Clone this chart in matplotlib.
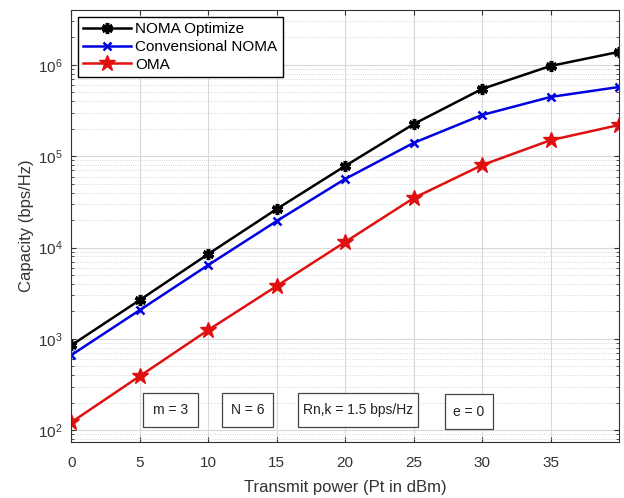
import matplotlib
matplotlib.use('Agg')
import matplotlib.pyplot as plt
from matplotlib.patches import Rectangle

power = [0, 5, 10, 15, 20, 25, 30, 35, 40]
noma_opt = [850, 2660, 8490, 26400, 78200, 225000, 546000, 975000, 1390000]
noma_conv = [664, 2065, 6430, 19500, 56400, 140000, 283000, 446000, 574000]
oma = [122, 391, 1250, 3790, 11500, 34800, 80000, 150000, 220000]
params = ['m = 3', 'N = 6', 'Rn,k = 1.5 bps/Hz', 'e = 0']

plt.rcParams['font.family'] = ['Liberation Sans', 'DejaVu Sans']

fig = plt.figure(figsize=(6.24, 4.98), dpi=100)
fig.set_facecolor('w')
ax = fig.add_axes([0.114, 0.112, 0.878, 0.868])

ax.semilogy(power, noma_opt, color='k', lw=1.8, marker=(6, 2, 0), ms=8, mew=2.5,
            label='NOMA Optimize')
ax.semilogy(power, noma_conv, color='#0000e0', lw=1.8, marker='x', ms=6, mew=1.8,
            label='Convensional NOMA')
ax.semilogy(power, oma, color='#e01010', lw=1.8, marker='*', ms=12,
            label='OMA')

ax.set_xlim(0, 40)
ax.set_ylim(74, 4.0e6)
ax.set_xticks([0, 5, 10, 15, 20, 25, 30, 35])
ax.grid(True, which='major', color='#d8d8d8', lw=0.8)
ax.grid(True, which='minor', color='#cccccc', lw=0.6, ls=':')
ax.tick_params(which='both', direction='in', top=True, right=True,
               colors='#333333', labelsize=11)
ax.tick_params(axis='x', pad=10)
ax.tick_params(axis='y', pad=6)
for s in ax.spines.values():
    s.set_color('#333333')

ax.set_xlabel('Transmit power (Pt in dBm)', fontsize=12, color='#333333', labelpad=7)
ax.set_ylabel('Capacity (bps/Hz)', fontsize=12, color='#333333', labelpad=3)

leg = ax.legend(loc='upper left', fontsize=11, fancybox=False, framealpha=1,
                edgecolor='k', borderaxespad=0.45, handlelength=3.1,
                handletextpad=0.3, labelspacing=0.25, borderpad=0.35)
leg.get_frame().set_linewidth(1.0)

# parameter boxes (axes fraction: x0, x1, y0, y1)
boxes = [(0.131, 0.232, 0.035, 0.115),
         (0.275, 0.369, 0.035, 0.115),
         (0.414, 0.633, 0.035, 0.115),
         (0.682, 0.770, 0.031, 0.111)]
for (x0, x1, y0, y1), t in zip(boxes, params):
    ax.add_patch(Rectangle((x0, y0), x1 - x0, y1 - y0, transform=ax.transAxes,
                           fc='w', ec='#444444', lw=0.9, zorder=5))
    ax.text((x0 + x1) / 2, (y0 + y1) / 2, t, transform=ax.transAxes,
            ha='center', va='center', fontsize=10, color='#222222', zorder=6)

fig.savefig('out.png', dpi=100)
